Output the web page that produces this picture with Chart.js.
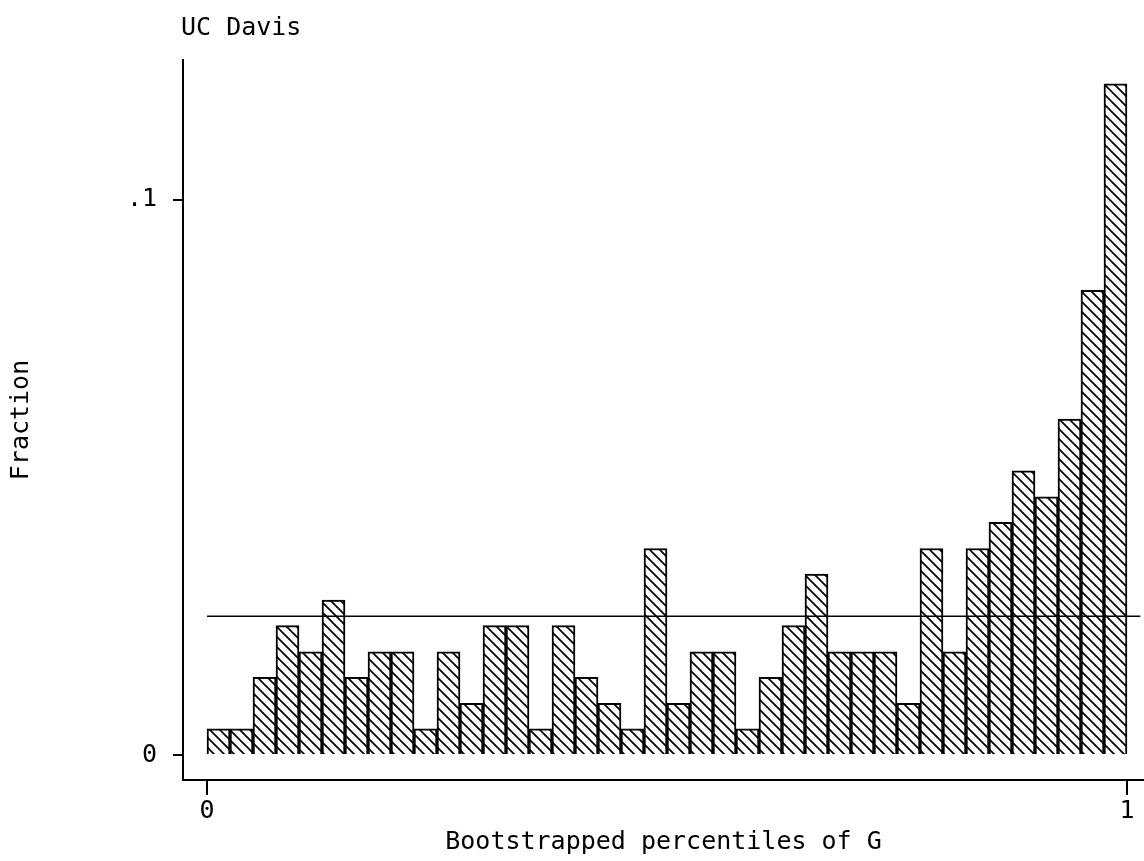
<!DOCTYPE html>
<html>
<head>
<meta charset="utf-8">
<script src="https://cdn.jsdelivr.net/npm/chart.js@4.4.1/dist/chart.umd.min.js"></script>
<style>
  body { margin: 0; background: #fff; }
  #wrap { width: 1144px; height: 861px; }
</style>
</head>
<body>
<div id="wrap"><canvas id="grafic" width="1144" height="861"></canvas></div>
<script>
// bin midpoints (40 bins of width .025 on [0,1])
const binMids = [
    0.0125, 0.0375, 0.0625, 0.0875, 0.1125, 0.1375, 0.1625, 0.1875, 0.2125, 0.2375,
    0.2625, 0.2875, 0.3125, 0.3375, 0.3625, 0.3875, 0.4125, 0.4375, 0.4625, 0.4875,
    0.5125, 0.5375, 0.5625, 0.5875, 0.6125, 0.6375, 0.6625, 0.6875, 0.7125, 0.7375,
    0.7625, 0.7875, 0.8125, 0.8375, 0.8625, 0.8875, 0.9125, 0.9375, 0.9625, 0.9875
];
// fraction in each bin
const fractions = [
    0.0047, 0.0047, 0.0140, 0.0233, 0.0186, 0.0279, 0.0140, 0.0186, 0.0186, 0.0047,
    0.0186, 0.0093, 0.0233, 0.0233, 0.0047, 0.0233, 0.0140, 0.0093, 0.0047, 0.0372,
    0.0093, 0.0186, 0.0186, 0.0047, 0.0140, 0.0233, 0.0326, 0.0186, 0.0186, 0.0186,
    0.0093, 0.0372, 0.0186, 0.0372, 0.0419, 0.0512, 0.0465, 0.0605, 0.0837, 0.1209
];
const refLevel = 0.025;   // uniform line
const xTicks = [0, 1];
const xTickLabels = ['0', '1'];
const yTicks = [0, 0.1];
const yTickLabels = ['0', '.1'];

const FONT = 'DejaVu Sans Mono';
Chart.defaults.font.family = FONT;
Chart.defaults.font.size = 25;
Chart.defaults.color = '#000';

// hatch pattern "\\\\"
function hatch() {
    const c = document.createElement('canvas');
    c.width = 10; c.height = 10;
    const g = c.getContext('2d');
    g.fillStyle = '#fff';
    g.fillRect(0, 0, 10, 10);
    g.strokeStyle = '#000';
    g.lineWidth = 1.7;
    g.beginPath();
    g.moveTo(-2, -2); g.lineTo(12, 12);
    g.moveTo(-12, -2); g.lineTo(2, 12);
    g.moveTo(8, -2); g.lineTo(22, 12);
    g.stroke();
    return g.createPattern(c, 'repeat');
}

const titluPlugin = {
    id: 'titluPlugin',
    afterDraw: (chart) => {
        const ctx = chart.ctx;
        ctx.save();
        ctx.font = '25px "' + FONT + '"';
        ctx.fillStyle = '#000';
        ctx.textBaseline = 'middle';
        ctx.fillText('UC Davis', 181, 28);
        ctx.restore();
    }
};

const ctx = document.getElementById('grafic').getContext('2d');

new Chart(ctx, {
    data: {
        datasets: [
            {
                type: 'bar',
                data: binMids.map((x, i) => ({ x: x, y: fractions[i] })),
                backgroundColor: hatch(),
                borderColor: '#000',
                borderWidth: 2,
                barPercentage: 1,
                categoryPercentage: 1,
                order: 2
            },
            {
                type: 'line',
                data: [{ x: 0, y: refLevel }, { x: 1.0145, y: refLevel }],
                borderColor: '#000',
                borderWidth: 1.7,
                pointRadius: 0,
                order: 1
            }
        ]
    },
    options: {
        responsive: false,
        animation: false,
        layout: { padding: { top: 60, left: 0, right: 0, bottom: 0 } },
        plugins: {
            legend: { display: false },
            tooltip: { enabled: false }
        },
        scales: {
            x: {
                type: 'linear',
                offset: false,
                min: -0.0261,
                max: 1.0185,
                afterFit: (scale) => { scale.height = 81; },
                afterBuildTicks: (scale) => { scale.ticks = xTicks.map(v => ({ value: v })); },
                ticks: {
                    padding: 1,
                    maxRotation: 0,
                    callback: (value) => xTickLabels[xTicks.indexOf(value)]
                },
                grid: { display: true, offset: false, drawOnChartArea: false, drawTicks: true, tickLength: 15, color: '#000', lineWidth: 2 },
                border: { display: true, color: '#000', width: 2 },
                title: { display: true, text: 'Bootstrapped percentiles of G', padding: { top: 0, bottom: 4 } }
            },
            y: {
                type: 'linear',
                min: -0.0045,
                max: 0.1252,
                afterFit: (scale) => { scale.width = 183; },
                afterBuildTicks: (scale) => { scale.ticks = yTicks.map(v => ({ value: v })); },
                ticks: {
                    padding: 16,
                    callback: (value) => yTickLabels[yTicks.indexOf(value)]
                },
                grid: { display: true, drawOnChartArea: false, drawTicks: true, tickLength: 10, color: '#000', lineWidth: 2 },
                border: { display: true, color: '#000', width: 2 },
                title: { display: true, text: 'Fraction', padding: { top: 6, bottom: 0 } }
            }
        }
    },
    plugins: [titluPlugin]
});
</script>
</body>
</html>
